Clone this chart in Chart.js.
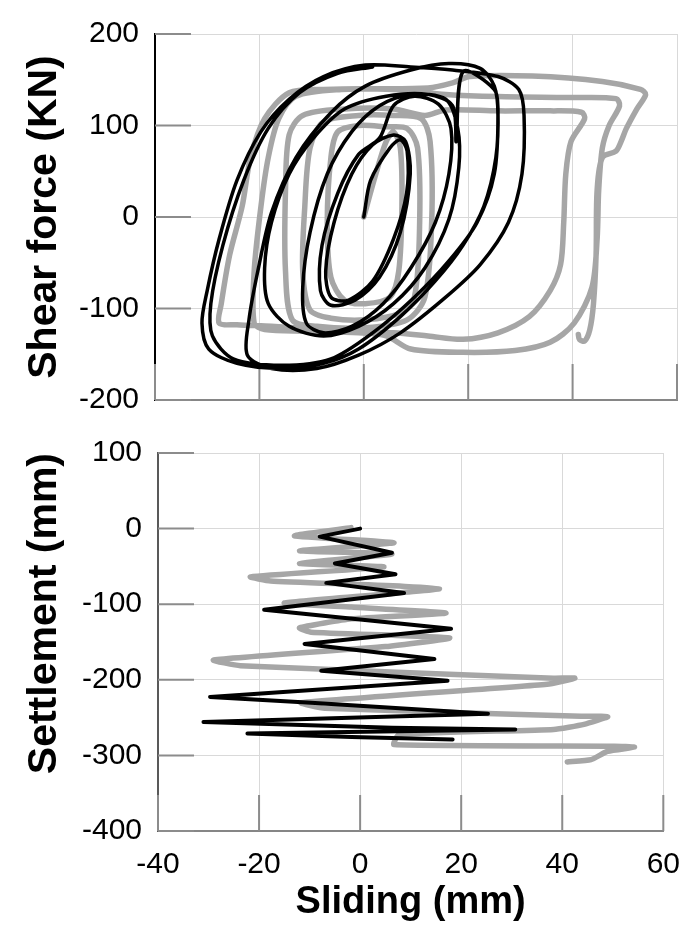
<!DOCTYPE html>
<html lang="en">
<head>
<meta charset="UTF-8">
<title>Shear force and settlement vs sliding</title>
<style>
  body { margin: 0; background: #fff; }
  #wrap { position: relative; width: 696px; height: 925px; }
  canvas { position: absolute; left: 0; top: 0; }
</style>
<script src="https://cdn.jsdelivr.net/npm/chart.js"></script>
</head>
<body>
<div id="wrap">
  <canvas id="shearChart" width="696" height="925"></canvas>
  <canvas id="settleChart" width="696" height="925"></canvas>
</div>
<script>
// x axis shared by both panels
const slidingMin = -40, slidingMax = 60, slidingStep = 20;
const shearMin = -200, shearMax = 200, shearStep = 100;
const settleMin = -400, settleMax = 100, settleStep = 100;

// top panel, grey loops (sliding mm / shear kN)
const grayShearX = [0,2.3,4.3,5.7,7,7.3,6.7,5,0.3,-3.7,-6.3,-7,-6.3,-5,-1,4.3,
  8.3,10.3,10.7,9.7,7,0.3,-6.3,-10.3,-11.7,-11.3,-10.3,-7.7,-1,5.7,
  11,12.7,13,11.7,8.3,0.3,-9,-13.7,-15,-15,-14.3,-11.7,-3.7,5.7,11.7,
  15.7,25.7,35.7,41.7,42.3,39.7,38.7,38.3,37.7,35.7,31.7,25.7,19,12.3,5.7,-7.7,-17.7,-24.3,-27.7,-27.3,-25.7,-23.3,-21.7,-19,-14.3,-7.7,5.7,
  15.7,25.7,39,48.3,49,47,45.7,45,44.7,43.7,40.3,35.7,29,19,9,4.3,-1,-11,-19,-21,-21,-19.7,-18.3,-16.3,-13,-4.3,12.3,17,20.3,
  32.3,45.7,53,54,52.3,50.3,49.3,48.3,45.7,44.7,44.5,44,43.3,42.3,41.3,41.1];
const grayShearY = [0,47,82.6,93,75.5,11.7,-59,-87.6,-94.7,-91,-66,-6,65,93,100,98.6,
  96.8,75.5,-6,-87.6,-105,-112.4,-110.6,-101.8,-59,11.7,75.5,104,111,111,
  107.4,82.6,-6,-87.6,-112.4,-121,-119.5,-112.4,-59,29.4,89.7,111,118,118,111,
  117,116,116,114.5,107.4,82.6,47,-6,-52,-80.5,-109,-126.6,-133.7,-130,-126.6,-123,-119.5,-117.7,-116,-94.7,-41.5,11.7,65,107.4,135.8,139.4,139.4,
  134,131.6,130.5,129.4,121.6,100,75.5,29.4,-23.8,-77,-116,-137,-146,-147.9,-144.3,-130,-126.6,-124.8,-123,-116,-59,11.7,65,107.4,132,139.4,141,146.5,153.5,
  154,148,139.4,134,118,96.8,82.6,72,65,29.4,-41.5,-94.7,-123,-135.5,-133.7,-128.4];

// top panel, black loops
const blackShearX = [0,1.3,5,7,8.3,8.2,5.7,1.7,-3,-6.3,-7.3,-5.7,-2.3,1.7,5.7,
  8,8.9,7,3,-1.7,-6.3,-8.3,-8,-5,-1,3,
  5.7,9.7,14.3,16.7,16.3,13.7,9,3.7,-2.3,-7.7,-11,-11.7,-10.3,-7,-2.3,3,9,
  15.7,18,18.2,16.3,11.7,5.7,-1,-7.7,-14.3,-18.3,-19,-17.7,-14.3,-9.7,-3.7,4.3,12.3,17,17.7,
  19,25,25.7,25.3,23,19,13.7,7,-1,-7.7,-15.7,-24.3,-29.7,-31,-30,-27.7,-24.3,-19.7,-14.3,-7.7,0.3,9,17,
  25.7,29.7,30.7,30.3,27.7,22.3,15.7,7,-1,-9,-17.7,-22.3,-22,-20.3,-17.7,-13,-6.3,0.3,9,16.3,22.3,
  25,25.7,25,21.7,16.3,9.7,1.7,-6.3,-15.7,-25,-29,-29.3,-27,-23,-18.3,-12.3,-5,1.7];
const blackShearY = [0,40,75.5,84.4,72,25.9,-23.8,-69.9,-91,-87.6,-59,-6,47,79,89.7,
  82.6,47,-16.7,-66,-91,-96.5,-80.5,-30.9,25.9,68.4,86.2,
  121.6,132,123.4,96.8,47,-6,-55.7,-94.7,-119.5,-126.6,-116,-77,-16.7,47,93.3,121.6,134,
  128.7,96.8,54,-2.5,-55.7,-94.7,-119.5,-130,-119.5,-94.7,-55.7,-6,47,86,118,132,134,121.6,82.6,
  158.9,139.4,118,65,11.7,-30.9,-69.9,-108.9,-144.3,-160,-165.6,-160,-144.3,-116,-80.5,-23.8,40,93.3,128.7,153.5,166,164,160.6,
  153.5,139.4,111,47,-6,-52,-87.6,-126.6,-151,-165.6,-165.6,-151,-112.4,-59,4.6,65,114,143,160.6,167.7,162.4,
  143,111,47,-6,-48,-87.6,-126.6,-155,-162,-155,-130,-94.7,-31,40,96.8,135.8,157,164];

// bottom panel, grey trace (sliding mm / settlement mm)
const graySettleX = [-1.8,-13,6.7,-12,6.3,-12,4.7,-21.7,-17.7,15.7,-15,-1.7,17,-1.7,-12,-9.7,17.7,5,-29,-23.7,
  38.3,42.5,37,-11.7,-7,43.7,49,44.3,38.3,7.7,6.7,50.3,54.3,49,45.7,41];
const graySettleY = [1.3,-9.8,-18.6,-29.3,-33.7,-46.1,-50.6,-63.9,-69.2,-79.4,-98.4,-103.8,-111.8,-119.3,-131.3,-137,-144.6,-156.1,-173.8,-181.4,
  -197.8,-197.8,-205.8,-230.2,-237.7,-248.3,-248.8,-259,-265.6,-272.3,-285.6,-287.8,-289.1,-294.5,-305.5,-308.6];

// bottom panel, black trace
const blackSettleX = [0,-8,6.3,-5,7,-6.7,8.7,-19,18,-11,14.7,-7.7,17.3,-29.7,-9.7,25.3,-31,6.3,30.7,-22.3,-1.7,18.3];
const blackSettleY = [0,-10.6,-31.9,-46.1,-60.3,-71.8,-85.1,-107.3,-132.6,-152.5,-172.5,-188,-201.3,-222.6,-230.2,-244.8,-255.9,-263.4,-265.6,-270.9,-275.8,-278.9];

const GRAY = '#a6a6a6';
const GRID = '#d9d9d9';
const tickFont = { family: "'Liberation Sans', Arial, sans-serif", size: 30 };
const yTitleFont = { family: "'Liberation Sans', Arial, sans-serif", size: 41, weight: 'bold' };

function pts(xs, ys) {
  return xs.map((x, i) => ({ x: x, y: ys[i] }));
}

// Excel style tick marks that point into the plot area
const innerTicks = {
  id: 'innerTicks',
  beforeDatasetsDraw(chart) {
    const { ctx, chartArea: a, scales } = chart;
    ctx.save();
    ctx.strokeStyle = '#8c8c8c';
    ctx.lineWidth = 2;
    ctx.beginPath();
    scales.y.ticks.forEach(t => {
      const py = scales.y.getPixelForValue(t.value);
      ctx.moveTo(a.left, py);
      ctx.lineTo(a.left + 36, py);
    });
    scales.x.ticks.forEach(t => {
      const px = scales.x.getPixelForValue(t.value);
      ctx.moveTo(px, a.bottom);
      ctx.lineTo(px, a.bottom - 36);
    });
    ctx.stroke();
    ctx.restore();
  }
};

function lineSet(data, color, width, tension) {
  return { data: data, borderColor: color, borderWidth: width, showLine: true,
    pointRadius: 0, tension: tension, borderJoinStyle: 'round', borderCapStyle: 'round' };
}

// top panel: shear force
new Chart(document.getElementById('shearChart'), {
  type: 'scatter',
  data: {
    datasets: [
      lineSet(pts(blackShearX, blackShearY), '#000', 3.5, 0.3),
      lineSet(pts(grayShearX, grayShearY), GRAY, 5.5, 0.3)
    ]
  },
  options: {
    responsive: false,
    animation: false,
    devicePixelRatio: 1,
    layout: { padding: { top: 23, right: 19, bottom: 525, left: 0 } },
    plugins: { legend: { display: false }, tooltip: { enabled: false } },
    scales: {
      x: {
        type: 'linear', min: slidingMin, max: slidingMax,
        ticks: { display: false, stepSize: slidingStep },
        grid: { color: GRID, drawTicks: false },
        border: { color: '#868686', width: 2 },
        afterFit: s => { s.height = 0; }
      },
      y: {
        min: shearMin, max: shearMax,
        ticks: { stepSize: shearStep, padding: 16, color: '#000', font: tickFont },
        grid: { color: GRID, drawTicks: false },
        border: { color: '#000', width: 2 },
        title: { display: true, text: 'Shear force (KN)', color: '#000', font: yTitleFont, padding: { top: 20, bottom: 0 } },
        afterFit: s => { s.width = 155; }
      }
    }
  },
  plugins: [innerTicks]
});

// bottom panel: settlement
new Chart(document.getElementById('settleChart'), {
  type: 'scatter',
  data: {
    datasets: [
      lineSet(pts(blackSettleX, blackSettleY), '#000', 4, 0),
      lineSet(pts(graySettleX, graySettleY), GRAY, 5.5, 0.15)
    ]
  },
  options: {
    responsive: false,
    animation: false,
    devicePixelRatio: 1,
    layout: { padding: { top: 453, right: 16, bottom: 0, left: 0 } },
    plugins: { legend: { display: false }, tooltip: { enabled: false } },
    scales: {
      x: {
        type: 'linear', min: slidingMin, max: slidingMax,
        ticks: { stepSize: slidingStep, padding: 16, color: '#000', font: tickFont, maxRotation: 0 },
        grid: { color: GRID, drawTicks: false },
        border: { color: '#868686', width: 2 },
        title: { display: true, text: 'Sliding (mm)', color: '#000',
          font: { family: "'Liberation Sans', Arial, sans-serif", size: 38, weight: 'bold' }, padding: { top: 0, bottom: 0 } },
        afterFit: s => { s.height = 94; }
      },
      y: {
        min: settleMin, max: settleMax,
        ticks: { stepSize: settleStep, padding: 16, color: '#000', font: tickFont },
        grid: { color: GRID, drawTicks: false },
        border: { color: '#595959', width: 2 },
        title: { display: true, text: 'Settlement (mm)', color: '#000', font: yTitleFont, align: 'end', padding: { top: 20, bottom: 0 } },
        afterFit: s => { s.width = 158; }
      }
    }
  },
  plugins: [innerTicks]
});
</script>
</body>
</html>
